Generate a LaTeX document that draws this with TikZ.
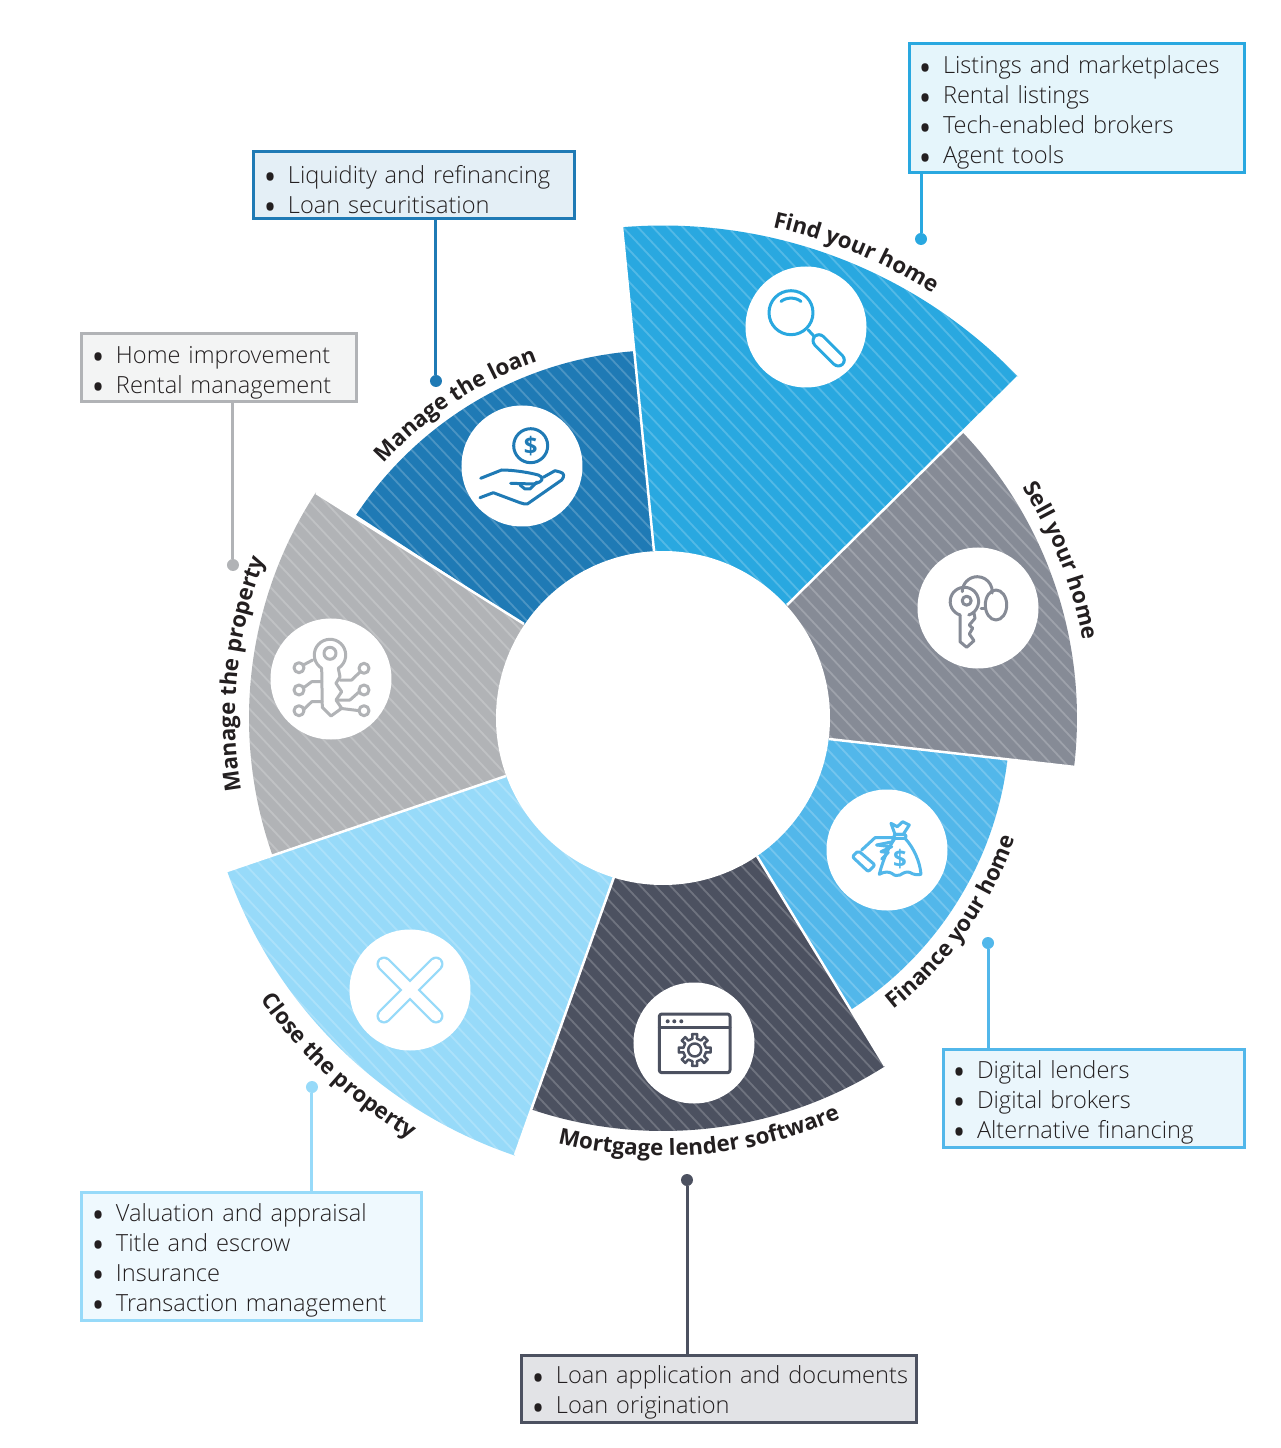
\documentclass[tikz,border=0pt]{standalone}
\usepackage{fontspec}
\setmainfont{Open Sans}
\newfontfamily\listfont{Open Sans Light}
\usepackage{tikz}
\usetikzlibrary{decorations.text}
\definecolor{findblue}{HTML}{29A8E0}
\definecolor{sellgrey}{HTML}{868B96}
\definecolor{financeblue}{HTML}{52B7EA}
\definecolor{lenderdark}{HTML}{4C5160}
\definecolor{closeblue}{HTML}{97DAF9}
\definecolor{managegrey}{HTML}{B1B3B6}
\definecolor{loanblue}{HTML}{1F7AB5}
\definecolor{ink}{HTML}{231F20}
\newcommand{\ringpiece}[6]{%
\begin{scope}
\clip (0,0) -- (#1) -- (#3:#5) arc[start angle=#3, end angle=#4, radius=#5pt] -- (#2) -- cycle;
\fill[#6] (-700,-800) rectangle (700,800);
\foreach \s in {-1500,-1485,...,600} {
\draw[white, opacity=0.2, line width=1.8pt] (\s,800) -- ({\s+1500},-800);
}
\end{scope}}
\newcommand{\arclabel}[4]{%
\path[decorate, decoration={text along path, text align=center,
text={|\fontsize{22.3}{24}\selectfont\bfseries\color{ink}|#4}}]
(#1:#3) arc[start angle=#1, end angle=#2, radius=#3pt];}
\newcommand{\bul}[1]{\mbox{\makebox[23pt][l]{\hspace*{-3.4pt}\smash{\raisebox{-11.5pt}{\fontsize{48}{30}\selectfont\textbullet}}}#1}}
\tikzset{
listbox/.style n args={4}{draw=#1, fill=#2, line width=3pt, outer sep=0pt, inner sep=0pt,
  minimum width=#3pt, minimum height=#4pt, text width={#3pt-22pt}, align=left, text=ink,
  font=\listfont\fontsize{23.6}{30}\selectfont, execute at begin node={\rule{0pt}{26pt}}},
enddot/.style={circle, fill=#1, minimum size=12pt, inner sep=0pt},
leadline/.style={draw=#1, line width=3pt},
gapline/.style={white, line width=2.5pt},
iconspot/.style={circle, fill=white, minimum size=121pt, inner sep=0pt},
iconline/.style={draw=#1, line width=3pt, line join=round, line cap=round},
dollar/.style={text=#1, inner sep=0pt, font=\fontsize{24}{24}\selectfont\bfseries}
}
\begin{document}
\begin{tikzpicture}[x=1pt,y=1pt]
\useasboundingbox (-663,-730) rectangle (617,718);
\ringpiece{-9,167}{124,113}{94.8}{43.85}{492.5}{findblue}
\ringpiece{124,113}{166,-21}{43.7}{-6.8}{414}{sellgrey}
\ringpiece{166,-21}{94,-138}{-6.9}{-57.3}{347}{financeblue}
\ringpiece{94,-138}{-49,-159}{-57.5}{-108.5}{413}{lenderdark}
\ringpiece{-49,-159}{-157,-58}{-108.7}{-160.7}{462}{closeblue}
\ringpiece{-157,-58}{-139,94}{199.3}{147}{414}{managegrey}
\ringpiece{-139,94}{-9,167}{146.5}{94.5}{368}{loanblue}
\draw[gapline] (-9,167) -- (-41,491);
\draw[gapline] (124,113) -- (355,341);
\draw[gapline] (166,-21) -- (412,-49);
\draw[gapline] (94,-138) -- (222,-348);
\draw[gapline] (-49,-159) -- (-148,-437);
\draw[gapline] (-157,-58) -- (-436,-153);
\draw[gapline] (-139,94) -- (-347,225);
\fill[white] (0,0) circle (167pt);
% labels round the ring
\arclabel{107.5}{27.5}{503}{Find your home}
\arclabel{61.6}{-18.4}{427}{Sell your home}
\arclabel{-75.3}{4.7}{372}{Finance your home}
\arclabel{-125}{-45}{438}{Mortgage lender software}
\arclabel{187}{267}{491}{Close the property}
\arclabel{214}{134}{428}{Manage the property}
\arclabel{163.5}{83.5}{378}{Manage the loan}
% white spots
\node[iconspot] (findspot) at (143,391) {};
\node[iconspot] (sellspot) at (315,110) {};
\node[iconspot] (financespot) at (224,-132) {};
\node[iconspot] (lenderspot) at (31,-325) {};
\node[iconspot] (closespot) at (-253,-272) {};
\node[iconspot] (managespot) at (-332,39) {};
\node[iconspot] (loanspot) at (-141,252) {};
% magnifier
\begin{scope}[shift={(143,391)}, iconline=findblue]
\draw (-15,14.3) circle (22pt);
\draw (-25,25.5) .. controls (-20,30) and (-10,30) .. (-5,25.5);
\draw (2.3,-3) -- (9,-10.3);
\draw[line width=3pt, double=white, double distance=9pt] (13,-13.7) -- (32.3,-33);
\end{scope}
% keys
\begin{scope}[shift={(315,110)}, iconline=sellgrey]
\draw (-18,-7) -- (-18,-33.7) -- (-11.3,-39.3) -- (-4,-32.7) -- (-8.7,-26) -- (-5.3,-20.3) -- (-8.7,-17) -- (-3,-10.3) -- (-4,-5.3);
\draw (-18,-7) arc[start angle=252, end angle=-72, radius=14.2pt];
\draw (-11.3,7.3) circle (4.5pt);
\draw (-15.7,16.3) arc[start angle=180, end angle=-5, radius=15pt];
\draw (3,-0.5) -- (7.5,-0.5);
\draw (18,3) ellipse (10.7pt and 15pt);
\end{scope}
% money bag and hand
\begin{scope}[shift={(224,-132)}, iconline=financeblue]
\draw (8,15.7) -- (4,26.7) -- (10.3,23.3) -- (15.7,28.3) -- (22.3,25) -- (16.3,15.7) -- cycle;
\draw[rounded corners=2pt] (7,15.7) rectangle (19,11.7);
\draw (8,11.7) .. controls (1,2) and (-4,-10) .. (-7.7,-24.3) .. controls (-2,-21) and (2,-22) .. (4.7,-23.3) .. controls (8,-26) and (10,-26) .. (13,-25) .. controls (16,-23) and (20,-21) .. (23,-22.5) .. controls (27,-25) and (31,-25) .. (34,-24.3) .. controls (33,-12) and (27,2) .. (18,11.7);
\node[dollar=financeblue] (bagdollar) at (13,-9) {\$};
\draw[rounded corners=2pt] (-34.7,-6.7) -- (-28.7,-0.7) -- (-12,-15) -- (-18.7,-21.7) -- cycle;
\draw (-25.3,0) -- (-12,12.3) -- (6,12.3) -- (5.7,8.3) -- (-10.3,5);
\draw (-10.3,5) -- (4.7,3.3) -- (-6,-1.7) -- (1.3,-2.5) -- (-5.3,-9);
\end{scope}
% window and gear
\begin{scope}[shift={(31,-325)}, iconline=lenderdark]
\draw[rounded corners=2.5pt] (-34.7,29) rectangle (36,-29.7);
\draw (-34.7,15.3) -- (36,15.3);
\fill[lenderdark] (-26.3,21.7) circle (2pt) (-19.7,21.7) circle (2pt) (-12.7,21.7) circle (2pt);
\draw[line width=2.5pt] (0.7,-7) circle (6.5pt);
\foreach \t in {0,45,...,315} {
\draw[shift={(0.7,-7)}, line width=2.5pt] (\t-11:11.5) -- (\t-9:16) arc[start angle=\t-9, end angle=\t+9, radius=16pt] -- (\t+11:11.5) arc[start angle=\t+11, end angle=\t+34, radius=11.5pt];
}
\end{scope}
% cross
\begin{scope}[shift={(-253,-272)}, line cap=round]
\draw[closeblue, line width=15pt] (-26,26) -- (26,-26) (-26,-26) -- (26,26);
\draw[white, line width=10.5pt] (-26,26) -- (26,-26) (-26,-26) -- (26,26);
\end{scope}
% circuit key
\begin{scope}[shift={(-332,39)}, iconline=managegrey]
\draw (-9.3,10.7) -- (-8.7,-28.3) -- (0,-37) -- (10.7,-29.3) -- (5,-21) -- (10.7,-12.7) -- (5,-4.3) -- (9,2.3) -- (7.3,10.7);
\draw (-9.3,10.7) arc[start angle=238, end angle=-58, radius=15.7pt];
\draw (-1,25.7) circle (6pt);
\draw (-32,11.3) circle (5pt) (-32,-11) circle (5pt) (-32,-31.7) circle (5pt);
\draw (33,10.7) circle (5pt) (33,-11) circle (5pt) (33,-31.7) circle (5pt);
\draw (-27.7,14) -- (-18.3,19);
\draw (-27.7,-9) -- (-19.3,-2.7) -- (-9.3,-2.7);
\draw (-27.7,-31) -- (-19.3,-22.7) -- (-9,-22.7);
\draw (29,7) -- (20.7,-1) -- (9,-1);
\draw (28.3,-12.7) -- (19,-21) -- (7.3,-21);
\draw (28.3,-31.7) -- (9,-29.3);
\end{scope}
% coin and hand
\begin{scope}[shift={(-141,252)}, iconline=loanblue]
\draw (8.7,20.3) circle (17pt);
\node[dollar=loanblue] (coindollar) at (8.7,20.3) {\$};
\draw (-41.3,-12.3) -- (-20.3,-4) .. controls (-10,-4) and (5,-6) .. (16.3,-9) .. controls (22,-11) and (22,-16) .. (11.3,-18) -- (-11.3,-17.3);
\draw (-42,-31.7) -- (-28.7,-26.7) -- (-2,-36.7) .. controls (1,-38) and (3,-38) .. (5.3,-38) -- (39.7,-14) .. controls (43,-10) and (42,-7) .. (38,-6) -- (33,-4.7) -- (21.3,-11.3);
\draw (-2,-19) -- (3,-23) -- (8,-23) -- (15,-16);
\end{scope}
% callouts
\node[listbox={findblue}{findblue!12}{335}{129}] (findbox) at (413.5,609.5) {\bul{Listings and marketplaces}\\ \bul{Rental listings}\\ \bul{Tech-enabled brokers}\\ \bul{Agent tools}};
\node[listbox={loanblue}{loanblue!12}{321}{67}, execute at begin node={\rule{0pt}{20pt}}] (loanbox) at (-248.5,532.5) {\bul{Liquidity and refinancing}\\ \bul{Loan securitisation}};
\node[listbox={managegrey}{managegrey!15}{275}{68}] (managebox) at (-443.5,350) {\bul{Home improvement}\\ \bul{Rental management}};
\node[listbox={closeblue}{closeblue!15}{340}{128}] (closebox) at (-411,-538) {\bul{Valuation and appraisal}\\ \bul{Title and escrow}\\ \bul{Insurance}\\ \bul{Transaction management}};
\node[listbox={lenderdark}{lenderdark!16}{394}{67}] (lenderbox) at (56,-670.5) {\bul{Loan application and documents}\\ \bul{Loan origination}};
\node[listbox={financeblue}{financeblue!12}{301}{98}] (financebox) at (430.5,-380) {\bul{Digital lenders}\\ \bul{Digital brokers}\\ \bul{Alternative financing}};
\node[enddot=findblue] (finddot) at (258,479) {};
\node[enddot=loanblue] (loandot) at (-227,337) {};
\node[enddot=managegrey] (managedot) at (-430,153) {};
\node[enddot=closeblue] (closedot) at (-351,-369) {};
\node[enddot=lenderdark] (lenderdot) at (24,-462) {};
\node[enddot=financeblue] (financedot) at (325,-225) {};
\draw[leadline=findblue] (finddot) -- (finddot |- findbox.south);
\draw[leadline=loanblue] (loandot) -- (loandot |- loanbox.south);
\draw[leadline=managegrey] (managedot) -- (managedot |- managebox.south);
\draw[leadline=closeblue] (closedot) -- (closedot |- closebox.north);
\draw[leadline=lenderdark] (lenderdot) -- (lenderdot |- lenderbox.north);
\draw[leadline=financeblue] (financedot) -- (financedot |- financebox.north);
\end{tikzpicture}
\end{document}
